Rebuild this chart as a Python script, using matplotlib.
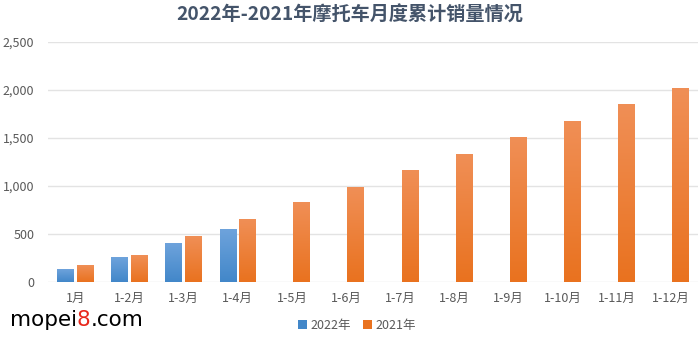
"""2022年-2021年摩托车月度累计销量情况 -- grouped bar chart with gradient bars."""
import numpy as np
import matplotlib
matplotlib.use("Agg")
import matplotlib.pyplot as plt
from matplotlib.colors import LinearSegmentedColormap

plt.rcParams["font.family"] = ["Noto Sans CJK SC", "DejaVu Sans"]

# ------------------------------------------------------------------ #
# Data (万辆)
# ------------------------------------------------------------------ #
categories = ["1月", "1-2月", "1-3月", "1-4月", "1-5月", "1-6月",
              "1-7月", "1-8月", "1-9月", "1-10月", "1-11月", "1-12月"]
sales_2022 = [135, 250, 406, 545]
sales_2021 = [170, 281, 469, 653, 826, 986, 1160, 1330, 1510, 1670, 1844, 2010]
series_labels = ["2022年", "2021年"]

TITLE = "2022年-2021年摩托车月度累计销量情况"

# gradient colours: (top, bottom)
BLUE = ("#6ea3dc", "#4287c9")
ORANGE = ("#f08f56", "#e9721f")

fig = plt.figure(figsize=(7.0, 3.41), dpi=100)
ax = fig.add_axes([0.069, 0.173, 0.928, 0.704])

x = np.arange(len(categories))
width = 0.31
gap = 0.05

bars22 = ax.bar(x[:len(sales_2022)] - (width + gap) / 2, sales_2022, width,
                color=BLUE[1], label=series_labels[0])
bars21 = ax.bar(x + (width + gap) / 2, sales_2021, width,
                color=ORANGE[1], label=series_labels[1])

# Vertical gradient painted inside each bar
grad = np.linspace(0, 1, 256).reshape(-1, 1)
for bars, (top, bottom) in ((bars22, BLUE), (bars21, ORANGE)):
    cmap = LinearSegmentedColormap.from_list("g", [top, bottom])
    for b in bars:
        bx, by = b.get_x(), b.get_y()
        bw, bh = b.get_width(), b.get_height()
        ax.imshow(grad, cmap=cmap, aspect="auto", zorder=b.get_zorder() + 0.1,
                  extent=(bx, bx + bw, by, by + bh), origin="upper")

ax.set_xlim(-0.5, len(categories) - 0.5)
ax.set_ylim(0, 2500)
ax.set_yticks(np.arange(0, 2501, 500))
ax.yaxis.set_major_formatter(matplotlib.ticker.FuncFormatter(lambda v, _: f"{v:,.0f}"))
ax.set_xticks(x)
ax.set_xticklabels(categories)

for s in ax.spines.values():
    s.set_visible(False)
ax.grid(axis="y", color="#e3e3e3", linewidth=1.0)
ax.set_axisbelow(True)
ax.tick_params(axis="both", length=0, labelsize=9, colors="#595959")
ax.tick_params(axis="x", pad=7)
ax.tick_params(axis="y", pad=10)

fig.text(0.5, 0.955, TITLE, ha="center", va="center", fontsize=13.8,
         fontweight="bold", color="#44546a")

leg = fig.legend(loc="center", bbox_to_anchor=(0.51, 0.046), ncol=2,
                 frameon=False, fontsize=9, handlelength=0.7,
                 handleheight=0.7, handletextpad=0.3, columnspacing=1.0)
for t in leg.get_texts():
    t.set_color("#595959")

# watermark
t1 = fig.text(0.014, 0.045, "mopei", fontsize=15.5, color="black",
              family="DejaVu Sans", va="baseline")
t2 = fig.text(0, 0, "8", fontsize=15.5, color="#e8281c", family="DejaVu Sans",
              va="baseline")
t3 = fig.text(0, 0, ".com", fontsize=15.5, color="black", family="DejaVu Sans",
              va="baseline")
fig.canvas.draw()
r = fig.canvas.get_renderer()
inv = fig.transFigure.inverted()
x1 = inv.transform((t1.get_window_extent(r).x1, 0))[0]
t2.set_position((x1, 0.045))
fig.canvas.draw()
x2 = inv.transform((t2.get_window_extent(r).x1, 0))[0]
t3.set_position((x2, 0.045))

fig.savefig("out.png", dpi=100)
